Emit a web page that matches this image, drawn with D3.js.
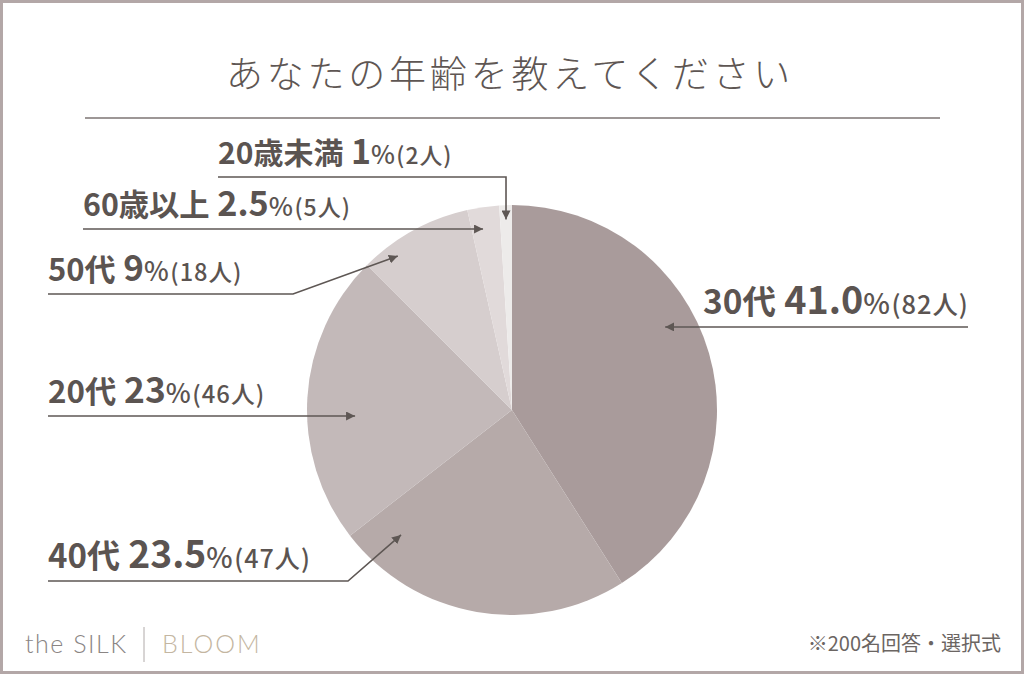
<!DOCTYPE html>
<html>
<head>
<meta charset="utf-8">
<script src="https://cdn.jsdelivr.net/npm/d3@7"></script>
<style>
  html, body { margin: 0; padding: 0; background: #fff; }
  svg { display: block; }
</style>
</head>
<body>
<div id="chartDiv"></div>
<script>
;(function() {

	var width = 1024;
	var height = 674;

	// data, in clockwise order from 12 o'clock
	var categories = ["30代", "40代", "20代", "50代", "60歳以上", "20歳未満"];
	var percentLabels = ["41.0", "23.5", "23", "9", "2.5", "1"];
	var counts = [82, 47, 46, 18, 5, 2];
	var colors = ["#a99b9b", "#b6aaa9", "#c3b9b9", "#d6cece", "#e1dada", "#edebea"];

	var titleText = "あなたの年齢を教えてください";
	var noteText = "※200名回答・選択式";

	var textColor = "#5b5451";
	var lineColor = "#5e5754";
	var cjkFont = "'Noto Sans CJK JP', 'Noto Sans', sans-serif";

	var cx = 512, cy = 410, radius = 205;

	// where each label sits, and where its leader hits the slice
	// t = fraction through the slice, rf = fraction of the radius
	var labelLayout = [
		{ x: 703, lineStart: 968, size: 33.4, t: 0.417, rf: 0.85 },
		{ x: 48, lineY: 581, elbowX: 348, size: 33, t: 0.875, rf: 0.815 },
		{ x: 48, size: 31.3, t: 0.43, rf: 0.766 },
		{ x: 48, lineY: 294, elbowX: 293, size: 31, t: 0.26, rf: 0.935 },
		{ x: 83, size: 30.3, t: 0.39, rf: 0.894 },
		{ x: 218, lineY: 177, vertical: true, size: 30, t: 0.5, rf: 0.93 }
	];

	var svg = d3.select("#chartDiv").append("svg")
		.attr("width", width)
		.attr("height", height);

	// frame
	svg.append("rect")
		.attr("x", 1.5).attr("y", 1.5)
		.attr("width", width - 3).attr("height", height - 3)
		.attr("fill", "#fff")
		.attr("stroke", "#b3a7a7")
		.attr("stroke-width", 3);

	// title
	svg.append("text")
		.attr("x", 510)
		.attr("y", 88)
		.attr("text-anchor", "middle")
		.style("font-family", cjkFont)
		.style("font-weight", 300)
		.style("font-size", "37px")
		.style("letter-spacing", "3.8px")
		.attr("fill", "#5e5653")
		.text(titleText);

	svg.append("line")
		.attr("x1", 85).attr("x2", 940)
		.attr("y1", 118).attr("y2", 118)
		.attr("stroke", "#7d7573")
		.attr("stroke-width", 1.5);

	// pie
	var pie = d3.pie().sort(null).value(function(d) { return d; });
	var arcs = pie(counts);
	var arc = d3.arc().innerRadius(0).outerRadius(radius);

	var plot = svg.append("g")
		.attr("transform", "translate(" + cx + "," + cy + ")");

	plot.selectAll(".slice")
		.data(arcs)
		.enter().append("path")
			.attr("class", "slice")
			.attr("d", arc)
			.attr("fill", function(d, i) { return colors[i]; });

	// arrow heads
	var defs = svg.append("defs");
	defs.append("marker")
		.attr("id", "arrow")
		.attr("viewBox", "0 0 10 10")
		.attr("refX", 10).attr("refY", 5)
		.attr("markerWidth", 9).attr("markerHeight", 9)
		.attr("markerUnits", "userSpaceOnUse")
		.attr("orient", "auto")
		.append("path")
			.attr("d", "M0,0 L10,5 L0,10 z")
			.attr("fill", lineColor);

	function tipOf(d, L) {
		var a = d.startAngle + L.t * (d.endAngle - d.startAngle);
		var r = L.rf * radius;
		return [cx + Math.sin(a) * r, cy - Math.cos(a) * r];
	}

	var labels = svg.append("g").attr("class", "labels");

	arcs.forEach(function(d, i) {
		var L = labelLayout[i];
		var tip = tipOf(d, L);
		var pts;
		var lineY = L.lineY != null ? L.lineY : tip[1];

		if (L.vertical) {
			pts = [[L.x, lineY], [tip[0], lineY], tip];
		} else if (L.elbowX != null) {
			pts = [[L.x, lineY], [L.elbowX, lineY], tip];
		} else if (L.lineStart != null) {
			pts = [[L.lineStart, lineY], tip];
		} else {
			pts = [[L.x, lineY], tip];
		}

		labels.append("path")
			.attr("d", d3.line()(pts))
			.attr("fill", "none")
			.attr("stroke", lineColor)
			.attr("stroke-width", 1.6)
			.attr("marker-end", "url(#arrow)");

		var s = L.size;
		var t = labels.append("text")
			.attr("x", L.x)
			.attr("y", lineY - 13)
			.style("font-family", cjkFont)
			.style("font-weight", 700)
			.attr("fill", textColor);

		t.append("tspan").style("font-size", s + "px").text(categories[i]);
		t.append("tspan").attr("dx", s * 0.25).style("font-size", (s * 1.13) + "px").text(percentLabels[i]);
		t.append("tspan").style("font-size", (s * 0.85) + "px").style("font-weight", 500).text("%");
		t.append("tspan").attr("dx", s * 0.05)
			.style("font-size", (s * 0.76) + "px").style("font-weight", 500)
			.style("letter-spacing", "1px")
			.text("(" + counts[i] + "人)");
	});

	// footer
	var brand = svg.append("g").style("font-family", "Lato, 'Open Sans', sans-serif").style("font-weight", 300);
	brand.append("text")
		.attr("x", 25).attr("y", 653)
		.style("font-size", "25px")
		.style("letter-spacing", "1.5px")
		.attr("fill", "#8a8584")
		.text("the SILK");
	brand.append("line")
		.attr("x1", 144).attr("x2", 144)
		.attr("y1", 627).attr("y2", 662)
		.attr("stroke", "#b0aaa9")
		.attr("stroke-width", 1);
	brand.append("text")
		.attr("x", 162).attr("y", 653)
		.style("font-size", "25px")
		.style("letter-spacing", "2px")
		.attr("fill", "#c4b6a1")
		.text("BLOOM");

	svg.append("text")
		.attr("x", 1001).attr("y", 651)
		.attr("text-anchor", "end")
		.style("font-family", cjkFont)
		.style("font-size", "20px")
		.attr("fill", "#6b6562")
		.text(noteText);

})();
</script>
</body>
</html>
